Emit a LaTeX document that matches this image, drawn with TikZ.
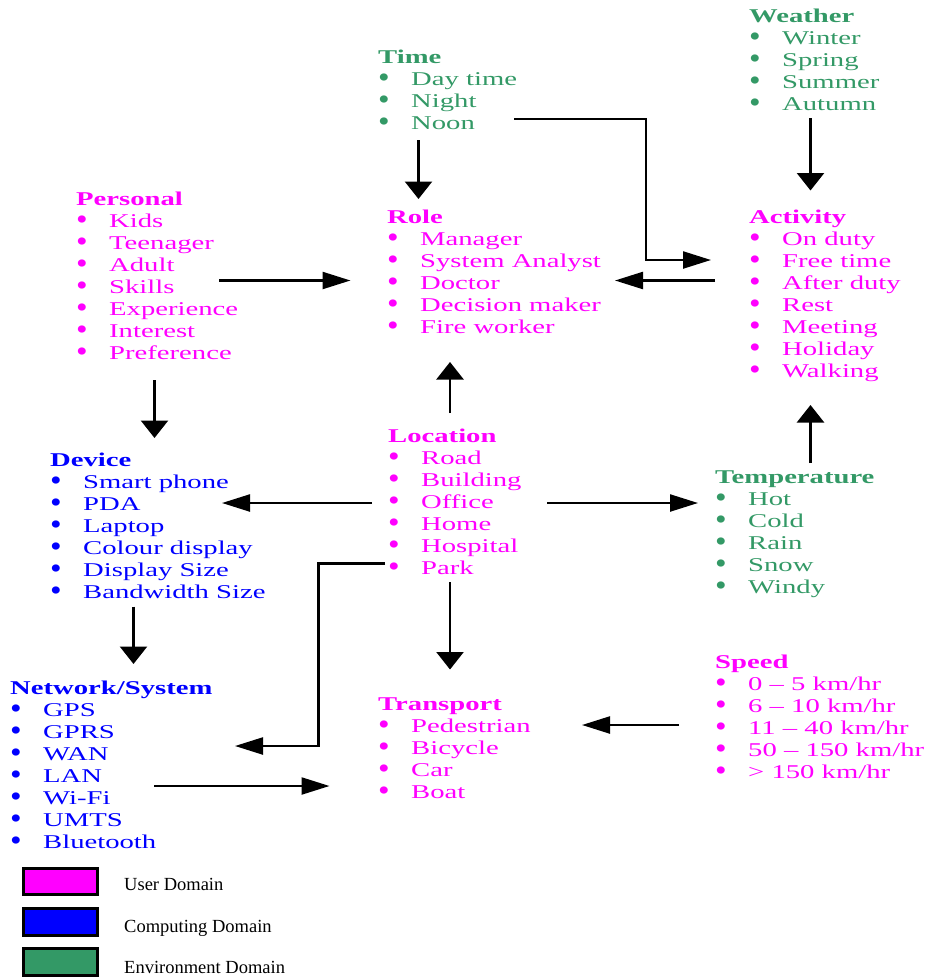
\documentclass[tikz,border=0pt]{standalone}
\usepackage{fontspec}
\usepackage{graphicx}
\usetikzlibrary{arrows.meta}
\newfontfamily\dfont{Liberation Serif}[FakeStretch=1.47]
\newfontfamily\lfont{Liberation Serif}
\definecolor{umag}{HTML}{FF00FF}
\definecolor{ublue}{HTML}{0000FF}
\definecolor{ugreen}{HTML}{339966}
\newcommand\itm[1]{\makebox[33pt][l]{\raisebox{-1.8pt}{\scalebox{1.7}[1.55]{\lfont\textbullet}}}#1}
\newcommand\hd[1]{\strut\textbf{#1}}
\tikzset{
  blk/.style={anchor=north west, inner sep=0pt, align=left,
    font=\dfont\fontsize{19.5}{22}\selectfont},
  harr/.style={line width=2.3pt, -{Triangle[length=28pt,width=17pt]}},
  varr/.style={line width=2.5pt, -{Triangle[length=17.5pt,width=27pt]}},
  legbox/.style={line width=3pt, draw=black},
  legtxt/.style={anchor=base west, inner sep=0pt, font=\lfont\fontsize{18.5}{22}\selectfont}
}
\begin{document}
\begin{tikzpicture}[x=1pt,y=-1pt]
\useasboundingbox (0,0) rectangle (933,980);
% blocks (north = baseline - 15.4)
\node[blk,text=ugreen] (weather) at (749,6.6) {\hd{Weather}\\\itm{Winter}\\\itm{Spring}\\\itm{Summer}\\\itm{Autumn}};
\node[blk,text=ugreen] (time) at (378,47.6) {\hd{Time}\\\itm{Day time}\\\itm{Night}\\\itm{Noon}};
\node[blk,text=umag] (personal) at (76,189.6) {\hd{Personal}\\\itm{Kids}\\\itm{Teenager}\\\itm{Adult}\\\itm{Skills}\\\itm{Experience}\\\itm{Interest}\\\itm{Preference}};
\node[blk,text=umag] (role) at (387,208) {\hd{Role}\\\itm{Manager}\\\itm{System Analyst}\\\itm{Doctor}\\\itm{Decision maker}\\\itm{Fire worker}};
\node[blk,text=umag] (activity) at (749,208) {\hd{Activity}\\\itm{On duty}\\\itm{Free time}\\\itm{After duty}\\\itm{Rest}\\\itm{Meeting}\\\itm{Holiday}\\\itm{Walking}};
\node[blk,text=umag] (location) at (388,427.3) {\hd{Location}\\\itm{Road}\\\itm{Building}\\\itm{Office}\\\itm{Home}\\\itm{Hospital}\\\itm{Park}};
\node[blk,text=ublue] (device) at (50,451.3) {\hd{Device}\\\itm{Smart phone}\\\itm{PDA}\\\itm{Laptop}\\\itm{Colour display}\\\itm{Display Size}\\\itm{Bandwidth Size}};
\node[blk,text=ugreen] (temperature) at (715,467.6) {\hd{Temperature}\\\itm{Hot}\\\itm{Cold}\\\itm{Rain}\\\itm{Snow}\\\itm{Windy}};
\node[blk,text=ublue] (network) at (10,678.6) {\hd{Network/System}\\\itm{GPS}\\\itm{GPRS}\\\itm{WAN}\\\itm{LAN}\\\itm{Wi-Fi}\\\itm{UMTS}\\\itm{Bluetooth}};
\node[blk,text=umag] (transport) at (378,694.6) {\hd{Transport}\\\itm{Pedestrian}\\\itm{Bicycle}\\\itm{Car}\\\itm{Boat}};
\node[blk,text=umag] (speed) at (715,653) {\hd{Speed}\\\itm{0 – 5 km/hr}\\\itm{6 – 10 km/hr}\\\itm{11 – 40 km/hr}\\\itm{50 – 150 km/hr}\\\itm{> 150 km/hr}};
% connector end points
\coordinate (t1) at (418.5,140); \coordinate (r1) at (418.5,199);
\coordinate (t2) at (514,119); \coordinate (c2a) at (646,119); \coordinate (c2b) at (646,260); \coordinate (a2) at (711,260);
\coordinate (a3) at (715,280.5); \coordinate (r3) at (615,280.5);
\coordinate (w4) at (810.5,118); \coordinate (a4) at (810.5,190.5);
\coordinate (p5) at (219,280.5); \coordinate (r5) at (350.5,280.5);
\coordinate (p6) at (154.5,380); \coordinate (d6) at (154.5,438);
\coordinate (l7) at (450,413); \coordinate (r7) at (450,362);
\coordinate (l8) at (372,503); \coordinate (d8) at (222,503);
\coordinate (l9) at (547,503); \coordinate (te9) at (698,503);
\coordinate (te10) at (810.5,463); \coordinate (a10) at (810.5,405);
\coordinate (l11) at (385,563.5); \coordinate (c11a) at (318.5,563.5); \coordinate (c11b) at (318.5,746); \coordinate (n11) at (235,746);
\coordinate (l12) at (450,582); \coordinate (tr12) at (450,669.5);
\coordinate (d13) at (133.5,606.5); \coordinate (n13) at (133.5,664);
\coordinate (s14) at (679,725); \coordinate (tr14) at (582,725);
\coordinate (n15) at (154,786); \coordinate (tr15) at (329.5,786);
% connectors
\draw[varr] (t1) -- (r1);
\draw[harr] (t2) -- (c2a) -- (c2b) -- (a2);
\draw[harr] (a3) -- (r3);
\draw[varr] (w4) -- (a4);
\draw[harr] (p5) -- (r5);
\draw[varr] (p6) -- (d6);
\draw[varr] (l7) -- (r7);
\draw[harr] (l8) -- (d8);
\draw[harr] (l9) -- (te9);
\draw[varr] (te10) -- (a10);
\draw[harr] (l11) -- (c11a) -- (c11b) -- (n11);
\draw[varr] (l12) -- (tr12);
\draw[varr] (d13) -- (n13);
\draw[harr] (s14) -- (tr14);
\draw[harr] (n15) -- (tr15);
% legend
\draw[legbox,fill=umag] (23.5,868.2) rectangle (97.5,894.5);
\draw[legbox,fill=ublue] (23.5,908.2) rectangle (97.5,935.2);
\draw[legbox,fill=ugreen] (23.5,948.5) rectangle (97.5,975.5);
\node[legtxt] (leguser) at (124,890) {User Domain};
\node[legtxt] (legcomp) at (124,932) {Computing Domain};
\node[legtxt] (legenv) at (124,973) {Environment Domain};
\end{tikzpicture}
\end{document}
